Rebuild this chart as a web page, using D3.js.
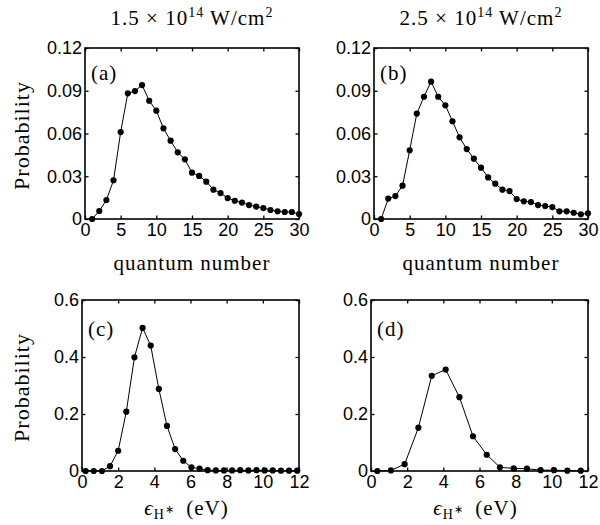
<!DOCTYPE html>
<html>
<head>
<meta charset="utf-8">
<script src="https://cdn.jsdelivr.net/npm/d3@7"></script>
<style>
  body { margin: 0; background: #fff; }
  svg { display: block; }
  .tick text { font-family: "Liberation Sans", Arial, sans-serif; font-size: 18px; fill: #000; }
  .serif { font-family: "Liberation Serif", "Times New Roman", serif; fill: #000; font-size: 21px; letter-spacing: 1px; }
</style>
</head>
<body>
<div id="chart"></div>
<script>
// ---------------- data ----------------
var quantumNumber = [1, 2, 3, 4, 5, 6, 7, 8, 9, 10, 11, 12, 13, 14, 15, 16, 17, 18, 19, 20, 21, 22, 23, 24, 25, 26, 27, 28, 29, 30]
var probA = [0, 0.0056, 0.0133, 0.0272, 0.061, 0.0882, 0.0898, 0.094, 0.083, 0.076, 0.0636, 0.055, 0.0468, 0.0419, 0.0325,
  0.0302, 0.0262, 0.0206, 0.0182, 0.0147, 0.0128, 0.0115, 0.0098, 0.0087, 0.0077, 0.0063, 0.0054, 0.0049, 0.0049, 0.0035]
var probB = [0, 0.0143, 0.0161, 0.0234, 0.0482, 0.074, 0.0858, 0.0964, 0.0858, 0.0798, 0.0686, 0.0573, 0.0491, 0.0423, 0.036,
  0.0292, 0.0248, 0.0206, 0.0196, 0.014, 0.0124, 0.0119, 0.0098, 0.0091, 0.0084, 0.0054, 0.0054, 0.0044, 0.0033, 0.004]

var energyC = [0.2, 0.65, 1.1, 1.55, 2.0, 2.45, 2.9, 3.35, 3.8, 4.25, 4.7, 5.15, 5.6, 6.05, 6.5, 6.95, 7.4, 7.85, 8.3,
  8.75, 9.2, 9.65, 10.1, 10.55, 11.0, 11.45, 11.9]
var probC = [0, 0, 0, 0.017, 0.071, 0.208, 0.399, 0.502, 0.44, 0.288, 0.158, 0.077, 0.036, 0.013, 0.008, 0.003, 0.002,
  0.002, 0.002, 0.003, 0.002, 0.003, 0.002, 0.002, 0.001, 0.001, 0.001]

var energyD = [0.35, 1.1, 1.86, 2.62, 3.36, 4.13, 4.89, 5.64, 6.4, 7.13, 7.89, 8.62, 9.38, 10.12, 10.86, 11.6]
var probD = [0, 0.002, 0.024, 0.152, 0.334, 0.356, 0.259, 0.122, 0.057, 0.013, 0.009, 0.008, 0.003, 0.003, 0.001, 0.001]

var qnTicks = [0, 5, 10, 15, 20, 25, 30]
var qnProbTicks = [0, 0.03, 0.06, 0.09, 0.12]
var energyTicks = [0, 2, 4, 6, 8, 10, 12]
var energyProbTicks = [0, 0.2, 0.4, 0.6]

// ---------------- layout ----------------
var W = 600, H = 525

var panels = [
  { id: "(a)", x: quantumNumber, y: probA, xDom: [0, 30], yDom: [0, 0.12], xTicks: qnTicks, yTicks: qnProbTicks,
    box: [85, 299, 48, 219], labelDy: 32, xlabel: "qn", ylabel: true, title: "1.5" },
  { id: "(b)", x: quantumNumber, y: probB, xDom: [0, 30], yDom: [0, 0.12], xTicks: qnTicks, yTicks: qnProbTicks,
    box: [374, 588, 48, 219], labelDy: 32, xlabel: "qn", ylabel: false, title: "2.5" },
  { id: "(c)", x: energyC, y: probC, xDom: [0, 12], yDom: [0, 0.6], xTicks: energyTicks, yTicks: energyProbTicks,
    box: [82, 299, 300, 471], labelDy: 36, xlabel: "eps", ylabel: true },
  { id: "(d)", x: energyD, y: probD, xDom: [0, 12], yDom: [0, 0.6], xTicks: energyTicks, yTicks: energyProbTicks,
    box: [371, 588, 300, 471], labelDy: 36, xlabel: "eps", ylabel: false }
]

var svg = d3.select("#chart").append("svg")
  .attr("width", W)
  .attr("height", H)

var fmtY = function (d) { return d === 0 ? "0" : (d < 0.15 ? d3.format(".2f")(d) : d3.format(".1f")(d)) }

panels.forEach(function (p) {
  var x0 = p.box[0], x1 = p.box[1], y0 = p.box[2], y1 = p.box[3]
  var xScale = d3.scaleLinear().domain(p.xDom).range([x0, x1])
  var yScale = d3.scaleLinear().domain(p.yDom).range([y1, y0])
  var g = svg.append("g")

  // axes: ticks pointing inward on all four sides
  var bottom = g.append("g").attr("transform", "translate(0," + y1 + ")")
    .call(d3.axisBottom(xScale).tickValues(p.xTicks).tickSize(-3.5).tickPadding(4).tickFormat(d3.format("d")))
  var top = g.append("g").attr("transform", "translate(0," + y0 + ")")
    .call(d3.axisTop(xScale).tickValues(p.xTicks).tickSize(-3.5).tickFormat(""))
  var left = g.append("g").attr("transform", "translate(" + x0 + ",0)")
    .call(d3.axisLeft(yScale).tickValues(p.yTicks).tickSize(-3.5).tickPadding(3).tickFormat(fmtY))
  var right = g.append("g").attr("transform", "translate(" + x1 + ",0)")
    .call(d3.axisRight(yScale).tickValues(p.yTicks).tickSize(-3.5).tickFormat(""))

  ;[bottom, top, left, right].forEach(function (a) {
    a.select(".domain").remove()
    a.selectAll(".tick line").attr("stroke", "#000").attr("stroke-width", 1.3)
  })

  g.append("rect")
    .attr("x", x0).attr("y", y0)
    .attr("width", x1 - x0).attr("height", y1 - y0)
    .attr("fill", "none").attr("stroke", "#000").attr("stroke-width", 1.6)

  var pts = p.x.map(function (v, i) { return [v, p.y[i]] })

  g.append("path")
    .datum(pts)
    .attr("fill", "none")
    .attr("stroke", "#000")
    .attr("stroke-width", 1)
    .attr("d", d3.line().x(function (d) { return xScale(d[0]) }).y(function (d) { return yScale(d[1]) }))

  g.selectAll(".dot").data(pts).enter().append("circle")
    .attr("cx", function (d) { return xScale(d[0]) })
    .attr("cy", function (d) { return yScale(d[1]) })
    .attr("r", 3.1)
    .attr("fill", "#000")

  g.append("text").attr("class", "serif")
    .attr("x", x0 + 6).attr("y", y0 + p.labelDy)
    .text(p.id)

  var cx = (x0 + x1) / 2
  if (p.xlabel === "qn") {
    g.append("text").attr("class", "serif")
      .attr("x", cx).attr("y", y1 + 51)
      .attr("text-anchor", "middle")
      .text("quantum number")
  } else {
    var t = g.append("text").attr("class", "serif")
      .attr("x", cx - 4).attr("y", y1 + 44)
      .attr("text-anchor", "middle")
    t.append("tspan").style("font-style", "italic").text("ϵ")
    t.append("tspan").attr("dy", 4).style("font-size", "14px").text("H")
    t.append("tspan").attr("dy", -6).style("font-size", "11px").text("∗")
    t.append("tspan").attr("dy", 2).text("\u2002(eV)")
  }

  if (p.ylabel) {
    g.append("text").attr("class", "serif")
      .attr("transform", "translate(29," + ((y0 + y1) / 2 + 2) + ") rotate(-90)")
      .attr("text-anchor", "middle")
      .style("font-size", "22px")
      .text("Probability")
  }

  if (p.title) {
    var tt = g.append("text").attr("class", "serif")
      .attr("x", cx).attr("y", 25)
      .attr("text-anchor", "middle")
    tt.append("tspan").text(p.title + " × 10")
    tt.append("tspan").attr("dy", -8).style("font-size", "14px").text("14")
    tt.append("tspan").attr("dy", 8).text(" W/cm")
    tt.append("tspan").attr("dy", -8).style("font-size", "14px").text("2")
  }
})
</script>
</body>
</html>
